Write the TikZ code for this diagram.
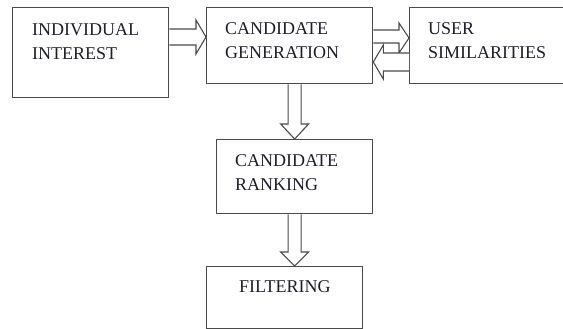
\documentclass[tikz,border=0pt]{standalone}
\usepackage{fontspec}
\setmainfont{Liberation Serif}
\usetikzlibrary{calc}
\definecolor{linec}{HTML}{4A4A4A}
\definecolor{textc}{HTML}{1E1E28}
\begin{document}
\begin{tikzpicture}[x=1pt,y=-1pt,
  box/.style={draw=linec,line width=1.3pt,rectangle,inner sep=0pt,anchor=north west,fill=white},
  lbl/.style={anchor=north west,inner sep=0pt,align=left,text=textc,font=\fontsize{18}{24}\selectfont},
  blk/.style={draw=linec,line width=1.1pt,line join=miter,fill=white}]
\useasboundingbox (0,0) rectangle (563,329);
\fill[white] (0,0) rectangle (563,329);
\begin{scope}
\clip (0,0) rectangle (563,329);
% boxes
\node[box,minimum width=156pt,minimum height=90pt] (ind) at (12,7) {};
\node[box,minimum width=166pt,minimum height=76pt] (cg) at (206,7) {};
\node[box,minimum width=160pt,minimum height=76pt] (user) at (409,7) {};
\node[box,minimum width=156pt,minimum height=74pt] (cr) at (216,139) {};
\node[box,minimum width=156pt,minimum height=62pt] (filt) at (206,266) {};
% texts
\node[lbl] (indT) at (32,23) {INDIVIDUAL\\INTEREST};
\node[lbl] (cgT) at (225,22) {CANDIDATE\\GENERATION};
\node[lbl] (userT) at (428,22) {USER\\SIMILARITIES};
\node[lbl] (crT) at (235,154) {CANDIDATE\\RANKING};
\node[lbl] (filtT) at (239,280) {FILTERING};
% block arrows
\draw[blk] let \p1=(ind.north east), \p2=(cg.north west) in
  (\x1,\y1-22pt) -- (\x2-10pt,\y1-22pt) -- (\x2-10pt,\y1-13pt) -- (\x2,\y1-30pt)
  -- (\x2-10pt,\y1-47pt) -- (\x2-10pt,\y1-38pt) -- (\x1,\y1-38pt);
\draw[blk] let \p1=(cg.north east), \p2=(user.north west) in
  (\x1,\y1-23pt) -- (\x2-10pt,\y1-23pt) -- (\x2-10pt,\y1-16pt) -- (\x2,\y1-31pt)
  -- (\x2-10pt,\y1-46pt) -- (\x2-10pt,\y1-36pt) -- (\x1,\y1-36pt);
\draw[blk] let \p1=(cg.north east), \p2=(user.north west) in
  (\x2,\y1-46pt) -- (\x1+10pt,\y1-46pt) -- (\x1+10pt,\y1-38pt) -- (\x1,\y1-55pt)
  -- (\x1+10pt,\y1-72pt) -- (\x1+10pt,\y1-64pt) -- (\x2,\y1-64pt);
\draw[blk] let \p1=(cg.south), \p2=(cr.north) in
  (\x2-6.5pt,\y1) -- (\x2-6.5pt,\y2+15pt) -- (\x2-14pt,\y2+15pt) -- (\x2,\y2)
  -- (\x2+14pt,\y2+15pt) -- (\x2+6.5pt,\y2+15pt) -- (\x2+6.5pt,\y1);
\draw[blk] let \p1=(cr.south), \p2=(filt.north) in
  (\x1-6.5pt,\y1) -- (\x1-6.5pt,\y2+14pt) -- (\x1-14pt,\y2+14pt) -- (\x1,\y2)
  -- (\x1+14pt,\y2+14pt) -- (\x1+6.5pt,\y2+14pt) -- (\x1+6.5pt,\y1);
\end{scope}
\end{tikzpicture}
\end{document}
